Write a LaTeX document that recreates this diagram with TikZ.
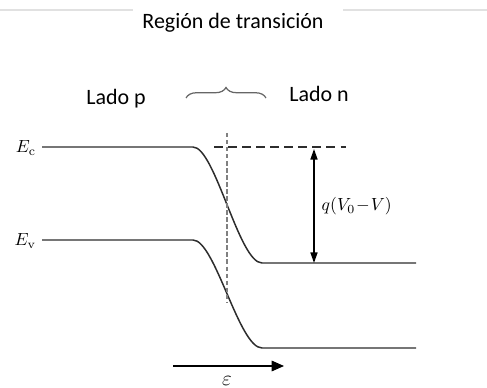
\documentclass[tikz,border=0pt]{standalone}
\usepackage{fontspec}
\setsansfont{Carlito}
\usetikzlibrary{arrows.meta, decorations.pathreplacing}
\definecolor{bandline}{RGB}{45, 45, 45}
\definecolor{rulegray}{RGB}{225, 225, 225}

\begin{document}
\begin{tikzpicture}[
    x=0.02cm, y=-0.02cm,
    band/.style={line width=0.85pt, draw=bandline},
    guide/.style={line width=0.7pt, draw=bandline, dash pattern=on 5pt off 3pt},
    midline/.style={line width=0.6pt, draw=gray, dash pattern=on 2.5pt off 1.5pt},
    lbl/.style={font=\sffamily\fontsize{12.5}{15}\selectfont, inner sep=1pt},
    mlbl/.style={inner sep=1pt, font=\normalsize},
    arrow/.style={-{Triangle[length=7pt, width=6pt]}, line width=0.8pt, draw=black},
    darrow/.style={{Triangle[length=6pt, width=4pt]}-{Triangle[length=6pt, width=4pt]}, line width=0.8pt}
]
\useasboundingbox (0,0) rectangle (487,388);

% faint rules of the page
\draw[rulegray, line width=0.8pt] (0,10) -- (133,10);
\draw[rulegray, line width=0.8pt] (343,10) -- (487,10);

% 1. Titulos
\node[lbl] (title) at (233,23) {Región de transición};
\node[lbl] (pside) at (116,99) {Lado p};
\node[lbl] (nside) at (319,94) {Lado n};
\coordinate (braceL) at (186,98);
\coordinate (braceR) at (266,98);
\draw[gray!80!black, line width=0.7pt, decorate,
      decoration={brace, amplitude=6pt}] (braceL) -- (braceR);

% 2. Bandas de energia
\node[mlbl, anchor=east] (Ec) at (38,148) {$E_{\mathrm{c}}$};
\node[mlbl, anchor=east] (Ev) at (38,241) {$E_{\mathrm{v}}$};

\coordinate (ecA) at (42,147);
\coordinate (ecB) at (193,147);
\coordinate (ecC) at (262,263);
\coordinate (ecD) at (416,263);
\coordinate (evA) at (42,240);
\coordinate (evB) at (193,240);
\coordinate (evC) at (262,348);
\coordinate (evD) at (416,348);

\draw[band] (ecA) -- (ecB) .. controls (215,147) and (239,263) .. (ecC) -- (ecD);
\draw[band] (evA) -- (evB) .. controls (215,240) and (239,348) .. (evC) -- (evD);

% 3. Guias tracejadas
\coordinate (dashL) at (214,147);
\coordinate (dashR) at (346,147);
\coordinate (midT) at (227,133);
\coordinate (midB) at (227,302);
\draw[guide] (dashL) -- (dashR);
\draw[midline] (midT) -- (midB);

% 4. Barreira q(V0 - V)
\coordinate (barT) at (314,149);
\coordinate (barB) at (314,263);
\draw[darrow] (barT) -- node[right=3pt, mlbl]{$q(V_0\!-\!V)$} (barB);

% 5. Campo electrico
\coordinate (fieldL) at (173,366);
\coordinate (fieldR) at (284,366);
\draw[arrow] (fieldL) -- (fieldR);
\node[mlbl, font=\large] (field) at (227,381) {$\varepsilon$};

\end{tikzpicture}
\end{document}
